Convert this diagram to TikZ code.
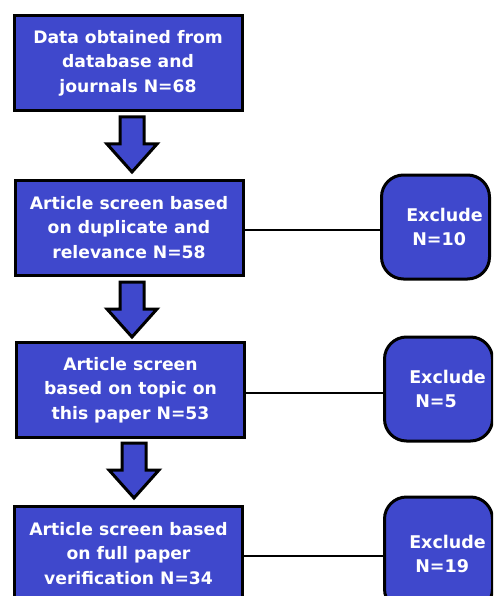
\documentclass[tikz,border=0pt]{standalone}
\usepackage{fontspec}
\setmainfont{DejaVu Sans}
\definecolor{boxblue}{RGB}{63,72,204}
\newcommand\exlines[1]{\hspace*{18pt}Exclude\\\hspace*{24pt}#1}
\begin{document}
\begin{tikzpicture}[x=1pt,y=-1pt,
  stepbox/.style={draw=black,line width=3pt,fill=boxblue,text=white,align=center,
    font=\bfseries\fontsize{17.2}{24.5}\selectfont,inner sep=0pt,minimum width=228pt,minimum height=95pt},
  exbox/.style={draw=black,line width=3pt,fill=boxblue,text=white,align=left,rounded corners=22pt,
    font=\bfseries\fontsize{17.5}{24.5}\selectfont,inner sep=0pt,minimum width=108pt,minimum height=104pt},
  link/.style={draw=black,line width=2.5pt},
  arr/.style={draw=black,line width=3pt,fill=boxblue,line join=miter}]
\useasboundingbox (0,0) rectangle (493,596);
\clip (0,0) rectangle (493,596);
\fill[white] (0,0) rectangle (493,596);
\node[stepbox] (b1) at (128,63) {Data obtained from\\database and\\journals N=68};
\node[stepbox] (b2) at (129,227.5) {Article screen based\\on duplicate and\\relevance N=58};
\node[stepbox] (b3) at (130.5,390) {Article screen\\based on topic on\\this paper N=53};
\node[stepbox] (b4) at (128.5,553.5) {Article screen based\\on full paper\\verification N=34};
\node[exbox] (e1) at (435.5,227) {\exlines{N=10}};
\node[exbox] (e2) at (438.5,389) {\exlines{N=5}};
\node[exbox,minimum height=114pt] (e3) at (438.5,554) {\exlines{N=19}};
\draw[link] (b2.east |- 0,230) coordinate (l1s) -- (l1s -| e1.west);
\draw[link] (b3.east |- 0,393) coordinate (l2s) -- (l2s -| e2.west);
\draw[link] (b4.east |- 0,556) coordinate (l3s) -- (l3s -| e3.west);
\coordinate (a1) at (132,117);
\coordinate (a2) at (132,282);
\coordinate (a3) at (134,443);
\foreach \a in {a1,a2,a3}{
  \draw[arr] (\a) ++(-12,0) -- ++(24,0) -- ++(0,27) -- ++(13,0) -- ++(-25,28) -- ++(-25,-28) -- ++(13,0) -- cycle;
}
\end{tikzpicture}
\end{document}
